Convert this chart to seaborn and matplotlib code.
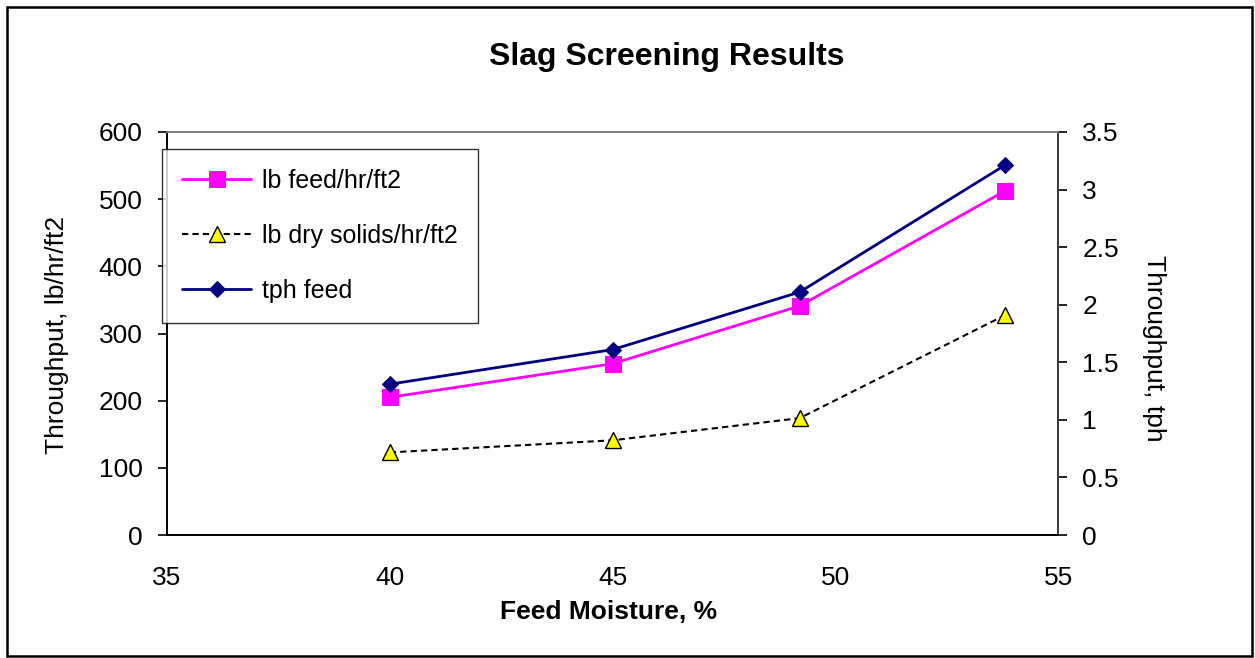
import matplotlib
matplotlib.use("Agg")
import matplotlib.pyplot as plt
import seaborn as sns
import pandas as pd
from matplotlib.patches import Rectangle

moisture = [40.0, 45.0, 49.2, 53.8]
lb_feed = [205, 255, 341, 512]
lb_dry = [123, 141, 174, 327]
tph_feed = [1.31, 1.61, 2.11, 3.21]

sns.set_theme(style="white")
plt.rcParams['font.family'] = ['Liberation Sans', 'DejaVu Sans']
plt.rcParams['text.color'] = 'black'
plt.rcParams['axes.labelcolor'] = 'black'
plt.rcParams['xtick.color'] = 'black'
plt.rcParams['ytick.color'] = 'black'

fig = plt.figure(figsize=(12.55, 6.58), dpi=100)
ax = fig.add_axes([0.1331, 0.1869, 0.8431 - 0.1331, 0.7994 - 0.1869])
ax2 = ax.twinx()

df = pd.DataFrame({"m": moisture, "feed": lb_feed, "dry": lb_dry, "tph": tph_feed})

sns.lineplot(data=df, x="m", y="feed", ax=ax, color="#FF00FF", linewidth=2.0,
             marker="s", markersize=11, markeredgecolor="#FF00FF",
             label="lb feed/hr/ft2", legend=False)
sns.lineplot(data=df, x="m", y="dry", ax=ax, color="black", linewidth=1.5,
             linestyle=(0, (3, 2)), marker="^", markersize=11,
             markerfacecolor="#FFFF00", markeredgecolor="black", markeredgewidth=1.0,
             label="lb dry solids/hr/ft2", legend=False)
sns.lineplot(data=df, x="m", y="tph", ax=ax2, color="#000080", linewidth=2.0,
             marker="D", markersize=8, markeredgecolor="#000080",
             label="tph feed", legend=False)

ax.set_xlim(35, 55)
ax.set_ylim(0, 600)
ax2.set_ylim(0, 3.5)
ax.set_xticks([35, 40, 45, 50, 55])
ax.set_yticks(range(0, 601, 100))
ax2.set_yticks([0, 0.5, 1, 1.5, 2, 2.5, 3, 3.5])
ax2.set_yticklabels(["0", "0.5", "1", "1.5", "2", "2.5", "3", "3.5"])

for a in (ax, ax2):
    a.tick_params(axis="both", direction="out", length=6.5, width=1.2, colors="black",
                  labelsize=19, pad=11)
    for s in a.spines.values():
        s.set_color("black")
        s.set_linewidth(1.2)
    a.spines["top"].set_color("#808080")
ax.tick_params(axis="x", pad=16)
ax2.spines["right"].set_color("#404040")

ax.set_xlabel("Feed Moisture, %", fontsize=19, fontweight="bold", va="center", ha="center")
ax.xaxis.set_label_coords(0.495, -0.192)
ax.set_ylabel("Throughput, lb/hr/ft2", fontsize=19, va="center", ha="center")
ax.yaxis.set_label_coords(-0.123, 0.496)
ax2.set_ylabel("Throughput, tph", fontsize=19, rotation=270, va="center", ha="center")
ax2.yaxis.set_label_coords(1.108, 0.463)
fig.text(0.531, 0.913, "Slag Screening Results", ha="center", va="center",
         fontsize=23, fontweight="bold")

h1, l1 = ax.get_legend_handles_labels()
h2, l2 = ax2.get_legend_handles_labels()
leg = ax2.legend(h1 + h2, l1 + l2, loc="upper left",
                 bbox_to_anchor=(-0.0056, 0.958), fontsize=18,
                 frameon=True, fancybox=False, edgecolor="black",
                 handlelength=2.76, labelspacing=1.24, borderpad=0.8,
                 handletextpad=0.45, borderaxespad=0)
leg.get_frame().set_linewidth(1.0)
leg.set_zorder(10)

fig.patches.append(Rectangle((0.0056, 0.003), 0.992, 0.986, transform=fig.transFigure,
                             fill=False, edgecolor="black", linewidth=1.8))

fig.savefig("out.png", dpi=100)
